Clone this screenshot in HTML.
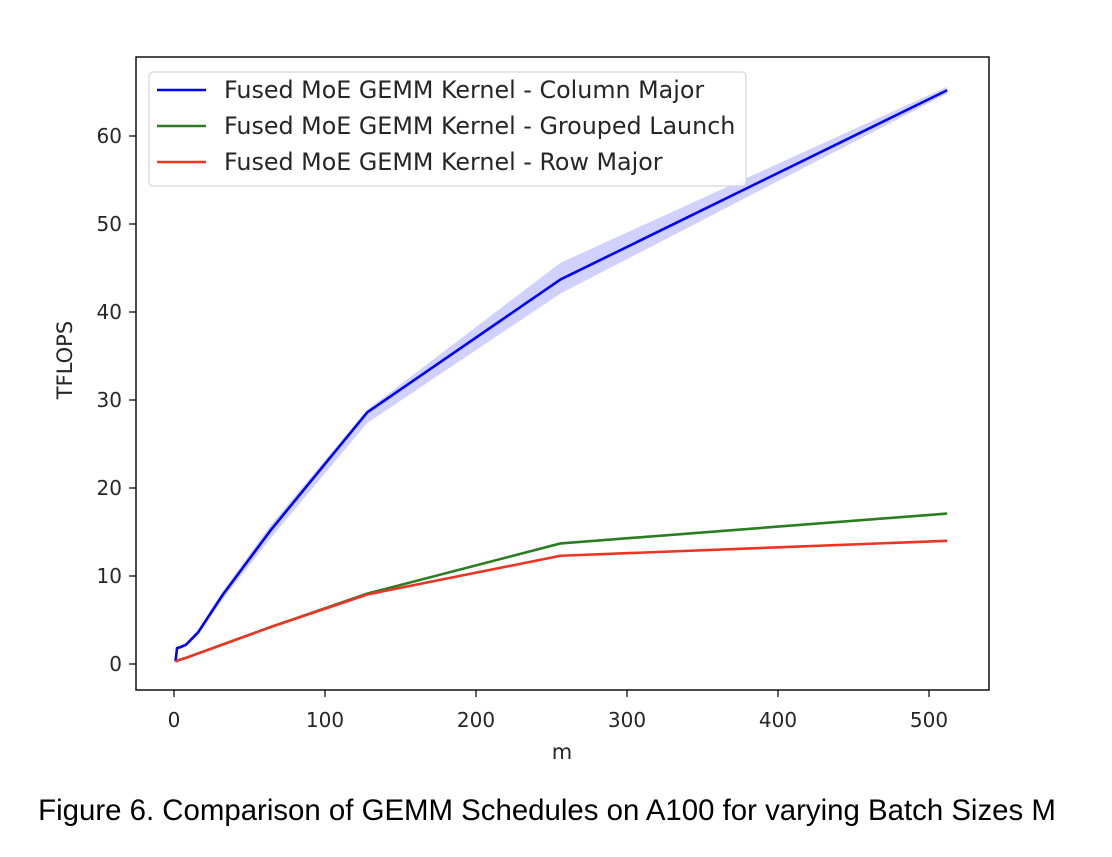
<!DOCTYPE html>
<html><head><meta charset="utf-8"><style>
body{margin:0;background:#fff;}
svg text{font-family:"DejaVu Sans","Liberation Sans",sans-serif;fill:#262626;}
</style></head><body>
<svg width="1112" height="852" xmlns="http://www.w3.org/2000/svg">
<g id="plot"></g>
<text x="547" y="820" text-anchor="middle" style="font-family:'Liberation Sans',sans-serif;font-size:29.4px;fill:#000">Figure 6. Comparison of GEMM Schedules on A100 for varying Batch Sizes M</text>
</svg>
<script>
const mVals=[1,2,4,8,16,32,64,128,256,512];
const colMajor=[0.3,1.8,1.9,2.2,3.6,7.8,15.2,28.6,43.7,65.2];
const colLower=[0.2,1.6,1.7,2.0,3.3,7.3,14.3,27.4,42.1,64.8];
const colUpper=[0.4,2.0,2.1,2.4,3.9,8.2,15.8,28.9,45.6,65.6];
const grouped=[0.3,0.35,0.5,0.7,1.2,2.2,4.2,8.0,13.7,17.1];
const rowMajor=[0.3,0.35,0.5,0.7,1.2,2.2,4.2,7.9,12.3,14.0];
const xTicks=[0,100,200,300,400,500];
const yTicks=[0,10,20,30,40,50,60];
const seriesNames=["Fused MoE GEMM Kernel - Column Major","Fused MoE GEMM Kernel - Grouped Launch","Fused MoE GEMM Kernel - Row Major"];
const seriesColors=["#0000ff","#2a7d21","#ee3322"];

const X=v=>174+v*1.51, Y=v=>664-v*8.8;
const NS="http://www.w3.org/2000/svg";
const g=document.getElementById('plot');
function mk(t,a,p){const e=document.createElementNS(NS,t);for(const k in a)e.setAttribute(k,a[k]);(p||g).appendChild(e);return e;}
let pts=mVals.map((m,i)=>X(m)+','+Y(colUpper[i])).concat(mVals.map((m,i)=>X(m)+','+Y(colLower[i])).reverse());
let band=mk('polygon',{points:pts.join(' '),fill:'#0000ff','fill-opacity':0.18,stroke:'none'});


[colMajor,grouped,rowMajor].forEach((s,k)=>{
 const l=mk('polyline',{points:mVals.map((m,i)=>X(m)+','+Y(s[i])).join(' '),fill:'none',stroke:seriesColors[k],'stroke-width':2.6,'stroke-linejoin':'round'});
 
 
});
const frame=mk('rect',{x:136,y:57,width:853,height:633,fill:'none',stroke:'#000','stroke-width':1.4});


xTicks.forEach(t=>{
 mk('line',{x1:X(t),x2:X(t),y1:690,y2:697,stroke:'#000','stroke-width':1.2});
 const tx=mk('text',{x:X(t),y:727,'text-anchor':'middle','font-size':20});tx.textContent=t;
 
 
});
yTicks.forEach(t=>{
 mk('line',{x1:129,x2:136,y1:Y(t),y2:Y(t),stroke:'#000','stroke-width':1.2});
 const tx=mk('text',{x:122,y:Y(t)+7,'text-anchor':'end','font-size':20});tx.textContent=t;
 
 
});
const xl=mk('text',{x:562,y:759,'text-anchor':'middle','font-size':21});xl.textContent='m';


const yl=mk('text',{x:72,y:360,'text-anchor':'middle','font-size':21,transform:'rotate(-90 72 360)'});yl.textContent='TFLOPS';


const lg=mk('g',{});


mk('rect',{x:149,y:72,width:597,height:114,rx:4,fill:'#fff','fill-opacity':0.85,stroke:'#d6d6d6','stroke-width':1.2},lg);
seriesNames.forEach((n,k)=>{
 const yy=90+k*36;
 mk('line',{x1:157,x2:206,y1:yy,y2:yy,stroke:seriesColors[k],'stroke-width':2.6},lg);
 const t=mk('text',{x:224,y:yy+8,'font-size':23.8},lg);t.textContent=n;
 
 
});
</script>
</body></html>
